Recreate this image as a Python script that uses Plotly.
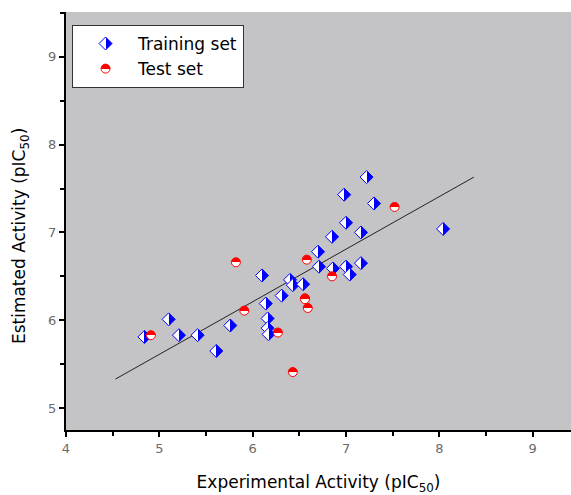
import plotly.graph_objects as go

# Training set (experimental, estimated)
train_x = [4.84, 5.10, 5.21, 5.41, 5.61, 5.76, 6.10, 6.14, 6.16, 6.16, 6.17, 6.31,
           6.40, 6.43, 6.54, 6.70, 6.71, 6.85, 6.86, 6.98, 7.00, 7.00, 7.04, 7.16,
           7.16, 7.22, 7.30, 8.04]
train_y = [5.81, 6.01, 5.83, 5.83, 5.65, 5.94, 6.51, 6.19, 6.02, 5.91, 5.84, 6.28,
           6.46, 6.40, 6.41, 6.78, 6.61, 6.95, 6.59, 7.43, 7.11, 6.61, 6.52, 7.00,
           6.65, 7.63, 7.33, 7.04]

# Test set
test_x = [4.91, 5.82, 5.91, 6.27, 6.43, 6.56, 6.56, 6.58, 6.59, 6.85, 7.52]
test_y = [5.83, 6.66, 6.11, 5.86, 5.41, 6.25, 6.24, 6.69, 6.14, 6.50, 7.29]

# Regression line end points
fit_x = [4.53, 8.37]
fit_y = [5.33, 7.63]

x_ticks = [4, 5, 6, 7, 8, 9]
y_ticks = [5, 6, 7, 8, 9]

font = "DejaVu Sans"

fig = go.Figure()
fig.add_trace(go.Scatter(x=fit_x, y=fit_y, mode="lines", showlegend=False,
                         line=dict(color="#222222", width=1)))
fig.add_trace(go.Scatter(
    x=train_x, y=train_y, mode="markers", name="Training set",
    marker=dict(symbol="diamond", size=10, color="white",
                gradient=dict(type="horizontal", color="#0000FF"),
                line=dict(color="#0000FF", width=1))))
fig.add_trace(go.Scatter(
    x=test_x, y=test_y, mode="markers", name="Test set",
    marker=dict(symbol="circle", size=9, color="#FF0000",
                gradient=dict(type="vertical", color="white"),
                line=dict(color="#FF0000", width=1))))

axis_common = dict(
    showgrid=False, zeroline=False, showline=True, linecolor="black", linewidth=2,
    ticks="outside", ticklen=5, tickwidth=1.5, tickcolor="black",
    tickfont=dict(family=font, size=13, color="#6a6a6a"),
    minor=dict(ticks="outside", ticklen=4, tickwidth=1.5, tickcolor="black", dtick=0.5),
    automargin=False,
)

fig.update_layout(
    width=571, height=495,
    margin=dict(l=66, r=0, t=12, b=65),
    paper_bgcolor="white", plot_bgcolor="#C4C3C6",
    font=dict(family=font, size=15, color="black"),
    xaxis=dict(range=[4, 9.41], tickvals=x_ticks,
               title=dict(text="Experimental Activity (pIC<sub>50</sub>)",
                          font=dict(family=font, size=17), standoff=24),
               **axis_common),
    yaxis=dict(range=[4.75, 9.51], tickvals=y_ticks, **axis_common),
    legend=dict(x=0.012, y=0.969, xanchor="left", yanchor="top",
                bgcolor="white", bordercolor="#333333", borderwidth=1,
                font=dict(family=font, size=17, color="black"),
                itemwidth=55, tracegroupgap=0),
    annotations=[dict(text="Estimated Activity (pIC<sub>50</sub>)", textangle=-90,
                      xref="paper", yref="paper", x=-0.091, y=0.464,
                      xanchor="center", yanchor="middle", showarrow=False,
                      font=dict(family=font, size=17, color="black"))],
)

post = """
document.body.style.margin = '0';
function sharpen(){
  document.querySelectorAll('linearGradient').forEach(function(g){
    var stops = g.querySelectorAll('stop');
    if (stops.length === 2 && !g.getAttribute('data-sharp')) {
      var s0 = stops[0], s1 = stops[1];
      var a = s0.cloneNode(true), b = s1.cloneNode(true);
      a.setAttribute('offset', '50%'); b.setAttribute('offset', '50%');
      g.insertBefore(a, s1); g.insertBefore(b, s1);
      g.setAttribute('data-sharp', '1');
    }
  });
}
sharpen();
"""

fig.write_html("out.html", post_script=post, config={"displayModeBar": False})
